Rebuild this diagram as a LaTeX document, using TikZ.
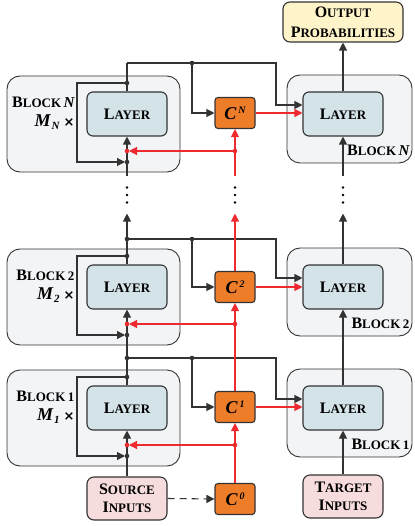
\documentclass[tikz,border=0pt]{standalone}
\usepackage{fontspec}
\setmainfont{Liberation Serif}
\newfontfamily\symfont{DejaVu Sans}
\usetikzlibrary{arrows.meta}

\definecolor{edge}{HTML}{333333}
\definecolor{blockgray}{HTML}{F2F4F6}
\definecolor{layerblue}{HTML}{D4E3E8}
\definecolor{corange}{HTML}{EE7D2A}
\definecolor{outyellow}{HTML}{FEF3C9}
\definecolor{inpink}{HTML}{F6DCDC}
\definecolor{linkred}{HTML}{EE2A2E}

% fake small caps: big first letter, smaller rest
\newcommand{\capsc}[2]{{\fontsize{16}{16}\selectfont #1}{\fontsize{13}{13}\selectfont #2}}
\newcommand{\csup}[1]{{\fontsize{18}{18}\selectfont C}\kern2pt\raisebox{6pt}{\fontsize{10}{10}\selectfont #1}}
\newcommand{\mrep}[1]{{\fontsize{18}{18}\selectfont\itshape M}\kern1pt\raisebox{-3pt}{\fontsize{11}{11}\selectfont\itshape #1}\kern4pt{\symfont\fontsize{13}{13}\selectfont ×}}

\begin{document}
\begin{tikzpicture}[x = 1pt, y = -1pt, line width = 1.1pt,
  outer/.style = {draw = edge, fill = blockgray, rounded corners = 13pt, inner sep = 0pt, line width = 0.9pt},
  layer/.style = {draw = edge, fill = layerblue, rounded corners = 6pt, minimum width = 80pt, minimum height = 44pt, font = \bfseries},
  cbox/.style = {draw = edge, fill = corange, rounded corners = 3pt, minimum width = 40pt, minimum height = 31pt, inner sep = 0pt, font = \bfseries\itshape},
  io/.style = {draw = edge, rounded corners = 7pt, minimum width = 80pt, minimum height = 43pt, inner sep = 0pt, align = center, font = \bfseries\fontsize{12}{18}\selectfont},
  dotbox/.style = {fill = white, minimum width = 20pt, minimum height = 36pt},
  lab/.style = {anchor = east, inner sep = 0pt, font = \bfseries},
  wire/.style = {draw = edge},
  redwire/.style = {draw = linkred},
  tip/.style = {-{Triangle[length = 8pt, width = 8pt]}}]
\useasboundingbox (0, 0) rectangle (414, 526);

% Outer blocks
\node[outer, minimum width = 173pt, minimum height = 96pt] (encN) at (93.5, 124) {};
\node[outer, minimum width = 173pt, minimum height = 96pt] (enc2) at (93.5, 297) {};
\node[outer, minimum width = 173pt, minimum height = 96pt] (enc1) at (93.5, 418) {};
\node[outer, minimum width = 125pt, minimum height = 88pt] (decN) at (349.5, 119) {};
\node[outer, minimum width = 125pt, minimum height = 88pt] (dec2) at (349.5, 292) {};
\node[outer, minimum width = 125pt, minimum height = 88pt] (dec1) at (349.5, 413) {};

% Labels
\node[lab] (labLN) at (75, 102) {\capsc{B}{LOCK} {\fontsize{15}{15}\selectfont\itshape N}};
\node[lab] (repN) at (75, 122) {\mrep{N}};
\node[lab] (labL2) at (75, 275) {\capsc{B}{LOCK} {\fontsize{13}{13}\selectfont 2}};
\node[lab] (rep2) at (75, 295) {\mrep{2}};
\node[lab] (labL1) at (75, 396) {\capsc{B}{LOCK} {\fontsize{13}{13}\selectfont 1}};
\node[lab] (rep1) at (75, 416) {\mrep{1}};
\node[lab] (labRN) at (410, 150) {\capsc{B}{LOCK} {\fontsize{15}{15}\selectfont\itshape N}};
\node[lab] (labR2) at (410, 323) {\capsc{B}{LOCK} {\fontsize{13}{13}\selectfont 2}};
\node[lab] (labR1) at (410, 444) {\capsc{B}{LOCK} {\fontsize{13}{13}\selectfont 1}};

% Layers and C boxes
\node[layer] (layLN) at (127, 114) {\capsc{L}{AYER}};
\node[layer] (layL2) at (127, 287) {\capsc{L}{AYER}};
\node[layer] (layL1) at (127, 408) {\capsc{L}{AYER}};
\node[layer] (layRN) at (343, 114) {\capsc{L}{AYER}};
\node[layer] (layR2) at (343, 287) {\capsc{L}{AYER}};
\node[layer] (layR1) at (343, 408) {\capsc{L}{AYER}};
\node[cbox] (cN) at (235, 113) {\csup{N}};
\node[cbox] (c2) at (235, 287) {\csup{2}};
\node[cbox] (c1) at (235, 407) {\csup{1}};
\node[cbox] (c0) at (235, 499) {\csup{0}};

% Inputs and output
\node[io, fill = inpink] (src) at (127, 498.5) {\capsc{S}{OURCE}\\\capsc{I}{NPUTS}};
\node[io, fill = inpink] (tgt) at (343, 496.5) {\capsc{T}{ARGET}\\\capsc{I}{NPUTS}};
\node[io, fill = outyellow, minimum width = 120pt, minimum height = 40pt, font = \bfseries\fontsize{12}{20}\selectfont] (out) at (343, 22) {\capsc{O}{UTPUT}\\\capsc{P}{ROBABILITIES}};

% Dots
\node[dotbox] (dotsL) at (127, 195) {};
\node[dotbox] (dotsM) at (235, 195) {};
\node[dotbox] (dotsR) at (343, 195) {};
\fill (dotsL.center) ++(0, -7.5) circle (1.3) ++(0, 7.5) circle (1.3) ++(0, 7.5) circle (1.3);
\fill (dotsM.center) ++(0, -7.5) circle (1.3) ++(0, 7.5) circle (1.3) ++(0, 7.5) circle (1.3);
\fill (dotsR.center) ++(0, -7.5) circle (1.3) ++(0, 7.5) circle (1.3) ++(0, 7.5) circle (1.3);

% Junctions
\coordinate (topN) at (127, 63);
\coordinate (splitN) at (192, 63);
\coordinate (turnN) at (276, 63);
\coordinate (joinN) at (127, 83);
\coordinate (redLN) at (127, 151);
\coordinate (redMN) at (235, 151);
\coordinate (loopN) at (127, 162);
\coordinate (top2) at (127, 239);
\coordinate (split2) at (192, 239);
\coordinate (turn2) at (276, 239);
\coordinate (join2) at (127, 256);
\coordinate (redL2) at (127, 324);
\coordinate (redM2) at (235, 324);
\coordinate (loop2) at (127, 335);
\coordinate (top1) at (127, 358);
\coordinate (split1) at (192, 358);
\coordinate (turn1) at (276, 358);
\coordinate (join1) at (127, 377);
\coordinate (redL1) at (127, 445);
\coordinate (redM1) at (235, 445);
\coordinate (loop1) at (127, 456);

% Left column
\draw[wire] (src.north) -- (loop1);
\draw[wire, tip] (loop1) -- (layL1.south);
\draw[wire, tip] (join1) -| ([xshift = -50pt]loop1) -- ([xshift = -2pt]loop1);
\draw[wire] (layL1.north) -- (loop2);
\draw[wire, tip] (loop2) -- (layL2.south);
\draw[wire, tip] (join2) -| ([xshift = -50pt]loop2) -- ([xshift = -2pt]loop2);
\draw[wire, tip] (layL2.north) -- (dotsL.south);
\draw[wire] (dotsL.north) -- (loopN);
\draw[wire, tip] (loopN) -- (layLN.south);
\draw[wire, tip] (joinN) -| ([xshift = -50pt]loopN) -- ([xshift = -2pt]loopN);
\draw[wire] (layLN.north) -- (topN);

% Links to the right
\draw[wire, tip] (topN) -- (turnN) |- ([yshift = 9pt]layRN.west);
\draw[wire, tip] (splitN) |- (cN.west);
\draw[wire, tip] (top2) -- (turn2) |- ([yshift = 9pt]layR2.west);
\draw[wire, tip] (split2) |- (c2.west);
\draw[wire, tip] (top1) -- (turn1) |- ([yshift = 9pt]layR1.west);
\draw[wire, tip] (split1) |- (c1.west);
\draw[wire, tip, dash pattern = on 7pt off 5pt] (src.east) -- (c0.west);

% Right column
\draw[wire, tip] (tgt.north) -- (layR1.south);
\draw[wire, tip] (layR1.north) -- (layR2.south);
\draw[wire, tip] (layR2.north) -- (dotsR.south);
\draw[wire, tip] (dotsR.north) -- (layRN.south);
\draw[wire, tip] (layRN.north) -- (out.south);

% Red links
\draw[redwire, tip] (c0.north) -- (c1.south);
\draw[redwire, tip] (c1.north) -- (c2.south);
\draw[redwire, tip] (c2.north) -- (dotsM.south);
\draw[redwire, tip] (dotsM.north) -- (cN.south);
\draw[redwire, tip] (redM1) -- ([xshift = 2pt]redL1);
\draw[redwire, tip] (redM2) -- ([xshift = 2pt]redL2);
\draw[redwire, tip] (redMN) -- ([xshift = 2pt]redLN);
\draw[redwire, tip] (c1.east) -- (c1.east -| layR1.west);
\draw[redwire, tip] (c2.east) -- (c2.east -| layR2.west);
\draw[redwire, tip] (cN.east) -- (cN.east -| layRN.west);

% Dots on junctions
\fill[edge] (splitN) circle (2.3) (joinN) circle (2.3) (loopN) circle (2.3);
\fill[edge] (top2) circle (2.3) (split2) circle (2.3) (join2) circle (2.3) (loop2) circle (2.3);
\fill[edge] (top1) circle (2.3) (split1) circle (2.3) (join1) circle (2.3) (loop1) circle (2.3);
\fill[linkred] (redLN) circle (2.3) (redMN) circle (2.3) (redL2) circle (2.3) (redM2) circle (2.3) (redL1) circle (2.3) (redM1) circle (2.3);
\end{tikzpicture}
\end{document}
